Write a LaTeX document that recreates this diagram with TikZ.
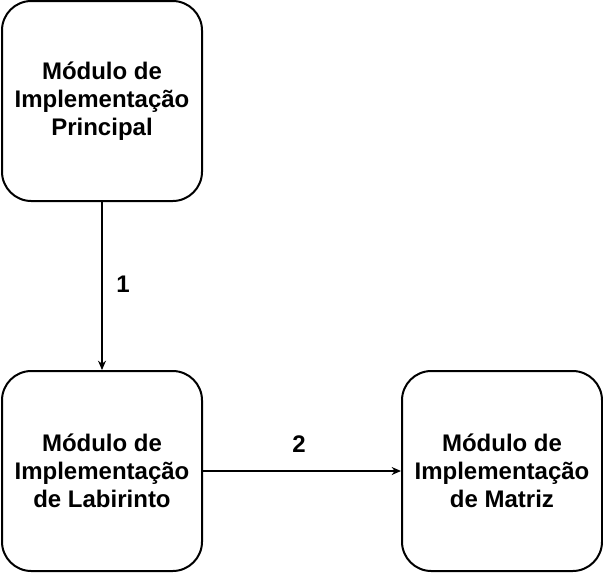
\documentclass[tikz,border=0pt]{standalone}
\usepackage{fontspec}
\setmainfont{Liberation Sans}
\usetikzlibrary{arrows.meta}

\tikzset{
  modulo/.style={draw, line width=1.5pt, rounded corners=22pt, minimum width=150pt,
                 minimum height=150pt, align=center, inner sep=0pt,
                 font=\fontsize{18pt}{21pt}\selectfont\bfseries},
  seta/.style={line width=1.1pt, -{Stealth[length=7pt, width=6pt]}},
  rotulo/.style={font=\fontsize{18pt}{21pt}\selectfont\bfseries, inner sep=0pt}
}

\begin{document}
\begin{tikzpicture}[x=0.75pt, y=-0.75pt]
            \useasboundingbox (0,0) rectangle (603,572);
            % caixas
            \node[modulo] (principal) at (102,101) {Módulo de\\Implementação\\Principal};
            \node[modulo] (labirinto) at (102,471) {Módulo de\\Implementação\\de Labirinto};
            \node[modulo] (matriz) at (502,471) {Módulo de\\Implementação\\de Matriz};
            % ligacoes
            \draw[seta] (principal) -- (labirinto);
            \draw[seta] (labirinto) -- (matriz);
            \node[rotulo] (um) at (123,284) {1};
            \node[rotulo] (dois) at (299,444) {2};
        \end{tikzpicture}
\end{document}
